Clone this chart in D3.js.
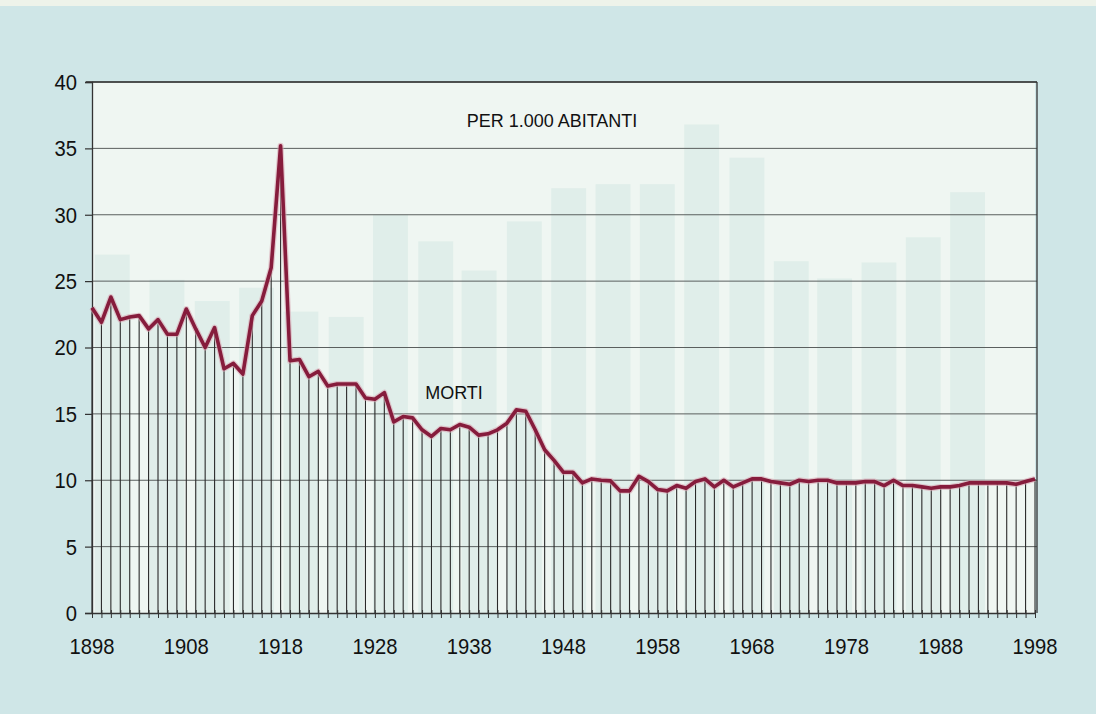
<!DOCTYPE html>
<html>
<head>
<meta charset="utf-8">
<script src="https://cdn.jsdelivr.net/npm/d3@7"></script>
<style>
  html, body { margin: 0; padding: 0; background: #cfe6e7; }
  svg { display: block; }
</style>
</head>
<body>
<svg id="chart" width="1096" height="714"></svg>
<script>
// Death rate (MORTI) per 1,000 inhabitants, 1898–1998
const startYear = 1898;
const deathRate = [
  23.0, 21.9, 23.8, 22.1, 22.3, 22.4, 21.4, 22.1, 21.0, 21.0,   // 1898-1907
  22.9, 21.4, 20.0, 21.5, 18.4, 18.8, 18.0, 22.4, 23.5, 26.0,   // 1908-1917
  35.2, 19.0, 19.1, 17.8, 18.2, 17.1, 17.25, 17.25, 17.25, 16.2, // 1918-1927
  16.1, 16.6, 14.4, 14.8, 14.7, 13.8, 13.3, 13.9, 13.8, 14.2,   // 1928-1937
  14.0, 13.4, 13.5, 13.8, 14.3, 15.3, 15.2, 13.8, 12.3, 11.5,   // 1938-1947
  10.6, 10.6, 9.8, 10.1, 10.0, 9.95, 9.2, 9.2, 10.3, 9.9,       // 1948-1957
  9.3, 9.2, 9.6, 9.4, 9.9, 10.1, 9.5, 10.0, 9.5, 9.8,           // 1958-1967
  10.1, 10.1, 9.9, 9.8, 9.7, 10.0, 9.9, 10.0, 10.0, 9.8,        // 1968-1977
  9.8, 9.8, 9.9, 9.9, 9.6, 10.0, 9.6, 9.6, 9.5, 9.4,            // 1978-1987
  9.5, 9.5, 9.6, 9.8, 9.8, 9.8, 9.8, 9.8, 9.7, 9.9,             // 1988-1997
  10.1                                                          // 1998
];
const years = deathRate.map((d, i) => startYear + i);
const xTickYears = [1898, 1908, 1918, 1928, 1938, 1948, 1958, 1968, 1978, 1988, 1998];
const yTicks = [0, 5, 10, 15, 20, 25, 30, 35, 40];
const labelTitle = "PER 1.000 ABITANTI";
const labelSeries = "MORTI";

// faint show-through bars from the reverse side of the printed page
const ghostStart = [1898.3, 1904.1, 1908.9, 1913.6, 1918.3, 1923.1, 1927.8, 1932.6, 1937.2, 1942.0, 1946.7, 1951.4, 1956.1, 1960.8, 1965.6, 1970.3, 1974.9, 1979.6, 1984.3, 1989.0];
const ghostValue = [27.0, 25.1, 23.5, 24.5, 22.7, 22.3, 30.0, 28.0, 25.8, 29.5, 32.0, 32.3, 32.3, 36.8, 34.3, 26.5, 25.2, 26.4, 28.3, 31.7];

const svg = d3.select("#chart");
const W = 1096, H = 714;
const m = { left: 92, right: 1035, top: 82, bottom: 613 };
const FONT = "'Liberation Sans', Arial, sans-serif";

// page background
svg.append("rect").attr("width", W).attr("height", H).attr("fill", "#cfe6e7");
svg.append("rect").attr("width", W).attr("height", 6).attr("fill", "#eef3ea");

const x = d3.scaleLinear().domain([1898, 1998]).range([m.left, m.right]);
const y = d3.scaleLinear().domain([0, 40]).range([m.bottom, m.top]);

// plot background
svg.append("rect")
  .attr("x", m.left).attr("y", m.top)
  .attr("width", m.right - m.left).attr("height", m.bottom - m.top)
  .attr("fill", "#eff6f2");

// ghost bars
svg.append("g").selectAll("rect").data(ghostStart).join("rect")
  .attr("x", d => x(d))
  .attr("width", x(1898 + 3.7) - x(1898))
  .attr("y", (d, i) => y(ghostValue[i]))
  .attr("height", (d, i) => y(0) - y(ghostValue[i]))
  .attr("fill", "#d6e9e5")
  .attr("opacity", 0.6);

// horizontal gridlines
svg.append("g").selectAll("line").data(yTicks.filter(t => t > 0)).join("line")
  .attr("x1", m.left).attr("x2", m.right + 2)
  .attr("y1", d => y(d)).attr("y2", d => y(d))
  .attr("stroke", "#5a5f5e").attr("stroke-width", 1);

// top border extension & right border
svg.append("line").attr("x1", m.left - 6).attr("x2", m.right + 2)
  .attr("y1", y(40)).attr("y2", y(40)).attr("stroke", "#333").attr("stroke-width", 1.3);
svg.append("line").attr("x1", m.right + 2).attr("x2", m.right + 2)
  .attr("y1", y(40)).attr("y2", y(0)).attr("stroke", "#333").attr("stroke-width", 1.3);

// drop lines for every year
svg.append("g").selectAll("line").data(deathRate).join("line")
  .attr("x1", (d, i) => x(years[i])).attr("x2", (d, i) => x(years[i]))
  .attr("y1", d => y(d)).attr("y2", y(0))
  .attr("stroke", "#2a2a2a").attr("stroke-width", 1.1);

// Y axis
const yAxis = d3.axisLeft(y).tickValues(yTicks).tickSize(7).tickPadding(8).tickFormat("");
const gy = svg.append("g").attr("transform", `translate(${m.left},0)`).call(yAxis);
gy.select(".domain").attr("stroke", "#333").attr("stroke-width", 1.3);
gy.selectAll(".tick line").attr("stroke", "#333").attr("stroke-width", 1.2);
svg.append("g").selectAll("g").data(yTicks).join("g")
  .attr("transform", d => `translate(${m.left - 15},${y(d)}) scale(0.92,1)`)
  .append("text")
  .attr("text-anchor", "end").attr("dy", "0.36em")
  .attr("font-family", FONT).attr("font-size", 22).attr("fill", "#111")
  .text(d => d);

// X axis with yearly ticks crossing the baseline
const xAxis = d3.axisBottom(x).tickValues(years).tickSize(0).tickFormat("");
const gx = svg.append("g").attr("transform", `translate(0,${m.bottom})`).call(xAxis);
gx.select(".domain").attr("stroke", "#333").attr("stroke-width", 1.3);
gx.selectAll(".tick line").attr("y1", -3).attr("y2", 5).attr("stroke", "#333").attr("stroke-width", 1);
svg.append("g").selectAll("g").data(xTickYears).join("g")
  .attr("transform", d => `translate(${x(d)},${m.bottom + 41}) scale(0.92,1)`)
  .append("text")
  .attr("text-anchor", "middle")
  .attr("font-family", FONT).attr("font-size", 22).attr("fill", "#111")
  .text(d => d);

// main line
const line = d3.line().x((d, i) => x(years[i])).y(d => y(d));
svg.append("path").datum(deathRate)
  .attr("d", line)
  .attr("fill", "none")
  .attr("stroke", "#d9a8b4").attr("stroke-width", 6).attr("stroke-linejoin", "round").attr("opacity", 0.6);
svg.append("path").datum(deathRate)
  .attr("d", line)
  .attr("fill", "none")
  .attr("stroke", "#861c3c").attr("stroke-width", 3.6).attr("stroke-linejoin", "round");

// labels
svg.append("text").attr("x", 552).attr("y", 127).attr("text-anchor", "middle")
  .attr("font-family", FONT).attr("font-size", 18).attr("fill", "#111")
  .text(labelTitle);
svg.append("text").attr("x", 454).attr("y", 399).attr("text-anchor", "middle")
  .attr("font-family", FONT).attr("font-size", 18).attr("fill", "#111")
  .text(labelSeries);
</script>
</body>
</html>
